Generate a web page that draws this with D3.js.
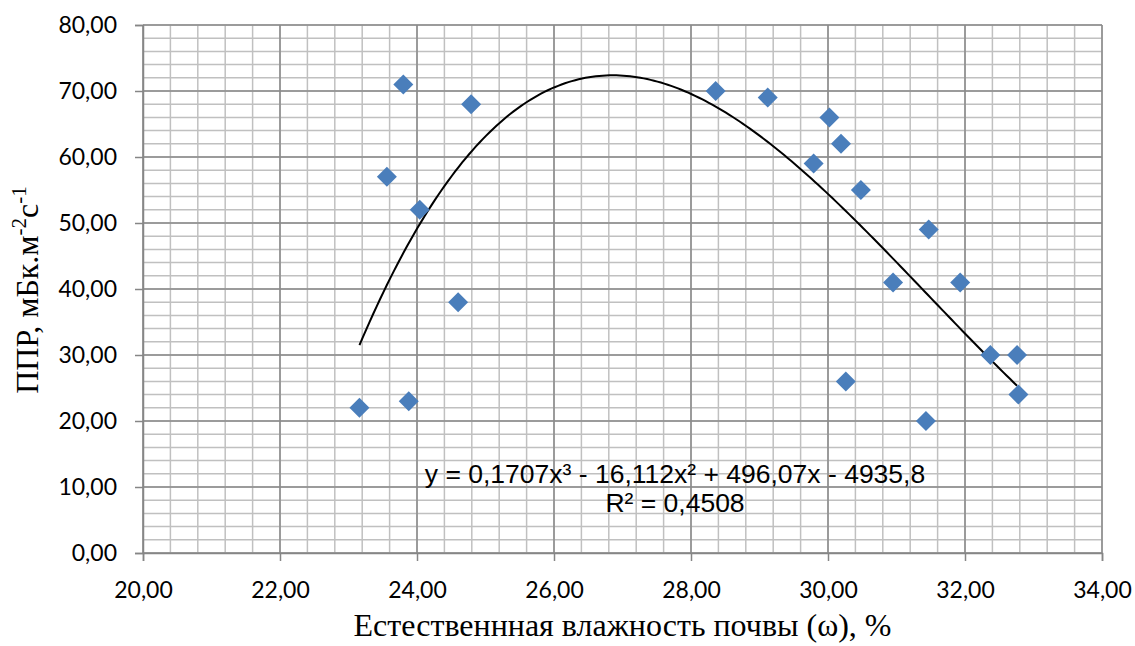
<!DOCTYPE html>
<html>
<head>
<meta charset="utf-8">
<script src="https://cdn.jsdelivr.net/npm/d3@7"></script>
<style>
  body { margin: 0; background: #fff; }
  svg { display: block; }
</style>
</head>
<body>
<div id="chart"></div>
<script>
// soil moisture (%) vs radon flux
var moisture = [23.16, 23.56, 23.80, 23.88, 24.04, 24.60, 24.79, 28.36, 29.12, 29.79, 30.02,
                30.19, 30.26, 30.48, 30.95, 31.43, 31.47, 31.93, 32.37, 32.76, 32.78];
var flux = [22, 57, 71, 23, 52, 38, 68, 70, 69, 59, 66,
            62, 26, 55, 41, 20, 49, 41, 30, 30, 24];
// cubic trend as printed on the chart: a3, a2, a1, a0
var trendCoef = [0.1707, -16.112, 496.07, -4935.8];
var xTicks = [20, 22, 24, 26, 28, 30, 32, 34];
var yTicks = [0, 10, 20, 30, 40, 50, 60, 70, 80];

var w = 1135, h = 646,
    pLeft = 143, pRight = 1102, pTop = 25, pBottom = 553;

var svg = d3.select("#chart").append("svg")
    .attr("width", w)
    .attr("height", h);

var x = d3.scaleLinear().domain([20, 34]).range([pLeft, pRight]);
var y = d3.scaleLinear().domain([0, 80]).range([pBottom, pTop]);

var fmt = function(d) { return d3.format(".2f")(d).replace(".", ","); };

// minor grid
var minorX = d3.range(20, 34.001, 0.4);
var minorY = d3.range(0, 80.001, 2);
svg.append("g").selectAll("line")
    .data(minorX)
    .enter().append("line")
    .attr("x1", function(d) { return x(d); })
    .attr("x2", function(d) { return x(d); })
    .attr("y1", pTop).attr("y2", pBottom)
    .attr("stroke", "#c0c0c0").attr("stroke-width", 1.5);
svg.append("g").selectAll("line")
    .data(minorY)
    .enter().append("line")
    .attr("y1", function(d) { return y(d); })
    .attr("y2", function(d) { return y(d); })
    .attr("x1", pLeft).attr("x2", pRight)
    .attr("stroke", "#c0c0c0").attr("stroke-width", 1.5);

// major grid
svg.append("g").selectAll("line")
    .data(xTicks)
    .enter().append("line")
    .attr("x1", function(d) { return x(d); })
    .attr("x2", function(d) { return x(d); })
    .attr("y1", pTop).attr("y2", pBottom)
    .attr("stroke", "#8a8a8a").attr("stroke-width", 1.5);
svg.append("g").selectAll("line")
    .data(yTicks)
    .enter().append("line")
    .attr("y1", function(d) { return y(d); })
    .attr("y2", function(d) { return y(d); })
    .attr("x1", pLeft).attr("x2", pRight)
    .attr("stroke", "#8a8a8a").attr("stroke-width", 1.5);

// axes
var xAxis = svg.append("g")
    .attr("transform", "translate(0," + pBottom + ")")
    .call(d3.axisBottom(x).tickValues(xTicks).tickFormat(fmt).tickSizeOuter(0).tickSize(8).tickPadding(21));
var yAxis = svg.append("g")
    .attr("transform", "translate(" + pLeft + ",0)")
    .call(d3.axisLeft(y).tickValues(yTicks).tickFormat(fmt).tickSizeOuter(0).tickSize(8).tickPadding(18));
[xAxis, yAxis].forEach(function(a) {
    a.attr("font-family", null).attr("font-size", null);
    a.select(".domain").attr("stroke", "#868686").attr("stroke-width", 1.5);
    a.selectAll(".tick line").attr("stroke", "#868686").attr("stroke-width", 1.5);
    a.selectAll("text")
        .attr("fill", "#000")
        .style("font-family", "Lato, 'Open Sans', sans-serif")
        .style("font-size", "23px");
});

// trend line
var trendX = d3.range(d3.min(moisture), d3.max(moisture) + 0.001, 0.05);
var line = d3.line()
    .x(function(d) { return x(d); })
    .y(function(d) {
        return y(trendCoef[0] * d * d * d + trendCoef[1] * d * d + trendCoef[2] * d + trendCoef[3]);
    });
svg.append("path")
    .datum(trendX)
    .attr("d", line)
    .attr("fill", "none")
    .attr("stroke", "#000")
    .attr("stroke-width", 2);

// points
var pts = moisture.map(function(d, i) { return {x: d, y: flux[i]}; });
svg.append("g").selectAll("path")
    .data(pts)
    .enter().append("path")
    .attr("transform", function(d) { return "translate(" + x(d.x) + "," + y(d.y) + ")"; })
    .attr("d", "M0,-10L10,0L0,10L-10,0Z")
    .attr("fill", "#4a7ebb");

// equation label
var eq = svg.append("text")
    .attr("text-anchor", "middle")
    .style("font-family", "'Liberation Sans', Arial, sans-serif")
    .style("font-size", "26.5px")
    .attr("fill", "#000");
eq.append("tspan").attr("x", 675).attr("y", 483)
    .text("y = 0,1707x³ - 16,112x² + 496,07x - 4935,8");
eq.append("tspan").attr("x", 675).attr("y", 512)
    .text("R² = 0,4508");

// axis titles
svg.append("text")
    .attr("x", (pLeft + pRight) / 2)
    .attr("y", 636)
    .attr("text-anchor", "middle")
    .style("font-family", "'Liberation Serif', 'Times New Roman', serif")
    .style("font-size", "32px")
    .text("Естественнная влажность почвы (ω), %");

var yt = svg.append("text")
    .attr("transform", "translate(38,290) rotate(-90)")
    .attr("text-anchor", "middle")
    .style("font-family", "'Liberation Serif', 'Times New Roman', serif")
    .style("font-size", "32px");
yt.append("tspan").text("ППР, мБк.м");
yt.append("tspan").attr("dy", -12).style("font-size", "21px").text("-2");
yt.append("tspan").attr("dy", 12).text("с");
yt.append("tspan").attr("dy", -12).style("font-size", "21px").text("-1");
</script>
</body>
</html>
